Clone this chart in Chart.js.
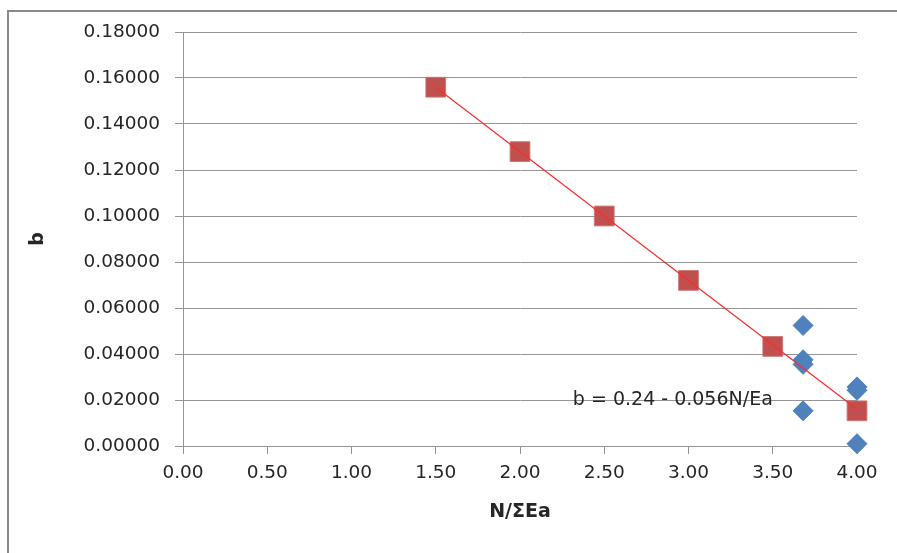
<!DOCTYPE html>
<html>
<head>
<meta charset="utf-8">
<script src="https://cdn.jsdelivr.net/npm/chart.js@4.4.1/dist/chart.umd.min.js"></script>
<style>
  html, body { margin: 0; padding: 0; background: #fff; overflow: hidden; }
  #chart { display: block; }
</style>
</head>
<body>
<canvas id="chart" width="897" height="553"></canvas>
<script>
// measured series (N/ΣEa, b)
const fitX = [1.5, 2.0, 2.5, 3.0, 3.5, 4.0];
const fitY = [0.156, 0.128, 0.100, 0.072, 0.0433, 0.0153];

const obsX = [3.68, 3.68, 3.68, 3.68, 4.0, 4.0, 4.0];
const obsY = [0.0524, 0.0375, 0.0355, 0.0153, 0.0257, 0.0242, 0.0010];

// trendline end points
const trendX = [1.5, 4.0];
const trendY = [0.156, 0.016];

const eqText = 'b = 0.24 - 0.056N/Ea';
const eqAnchor = [2.907, 0.018];

const xTitle = 'N/ΣEa';
const yTitle = 'b';

const zip = (xs, ys) => xs.map((x, i) => ({ x, y: ys[i] }));

const gridColor = '#969696';
const textColor = '#262626';

// outer frame (only top and left edges show in the picture)
const frame = {
  id: 'frame',
  beforeDraw(chart) {
    const { ctx, width, height } = chart;
    ctx.save();
    ctx.strokeStyle = '#8a8a8a';
    ctx.lineWidth = 2;
    ctx.beginPath();
    ctx.moveTo(8, height);
    ctx.lineTo(8, 11);
    ctx.lineTo(width, 11);
    ctx.stroke();
    ctx.restore();
  }
};

const eqLabel = {
  id: 'eqLabel',
  afterDatasetsDraw(chart) {
    const { ctx, scales } = chart;
    const px = scales.x.getPixelForValue(eqAnchor[0]);
    const py = scales.y.getPixelForValue(eqAnchor[1]);
    ctx.save();
    ctx.font = '19px "DejaVu Sans"';
    ctx.fillStyle = textColor;
    ctx.textAlign = 'center';
    ctx.textBaseline = 'alphabetic';
    ctx.fillText(eqText, px, py);
    ctx.restore();
  }
};

new Chart(document.getElementById('chart'), {
  type: 'scatter',
  data: {
    datasets: [
      {
        type: 'line',
        data: zip(trendX, trendY),
        borderColor: '#ff2a2a',
        borderWidth: 1.2,
        pointRadius: 0,
        fill: false,
        clip: false,
      },
      {
        data: zip(fitX, fitY),
        pointStyle: 'rect',
        pointRadius: 14,
        backgroundColor: '#c0504d',
        borderColor: 'rgba(205,120,118,0.9)',
        borderWidth: 1,
        clip: false,
      },
      {
        data: zip(obsX, obsY),
        pointStyle: 'rectRot',
        pointRadius: 10,
        backgroundColor: '#4f81bd',
        borderColor: '#4f81bd',
        borderWidth: 1,
        clip: false,
      },
    ],
  },
  options: {
    responsive: false,
    animation: false,
    layout: { padding: { left: 10, top: 32, right: 40, bottom: 0 } },
    plugins: { legend: { display: false }, tooltip: { enabled: false } },
    scales: {
      x: {
        type: 'linear',
        min: 0,
        max: 4,
        afterFit: (s) => { s.height = 107; },
        ticks: {
          stepSize: 0.5,
          padding: 8,
          color: textColor,
          font: { family: 'DejaVu Sans', size: 18.5 },
          callback: (v) => v.toFixed(2),
        },
        grid: { drawOnChartArea: false, color: gridColor, tickLength: 8 },
        border: { color: gridColor },
        title: {
          display: true,
          text: xTitle,
          color: textColor,
          font: { family: 'DejaVu Sans', size: 19, weight: 'bold' },
          padding: { top: 0, bottom: 30 },
        },
      },
      y: {
        min: 0,
        max: 0.18,
        afterFit: (s) => { s.width = 173; },
        ticks: {
          stepSize: 0.02,
          padding: 15,
          color: textColor,
          font: { family: 'DejaVu Sans', size: 18.5 },
          callback: (v) => v.toFixed(5),
        },
        grid: { color: gridColor, tickLength: 8 },
        border: { color: gridColor },
        title: {
          display: true,
          text: yTitle,
          color: textColor,
          font: { family: 'DejaVu Sans', size: 19, weight: 'bold' },
          padding: { top: 17, bottom: 0 },
        },
      },
    },
  },
  plugins: [frame, eqLabel],
});
</script>
</body>
</html>
